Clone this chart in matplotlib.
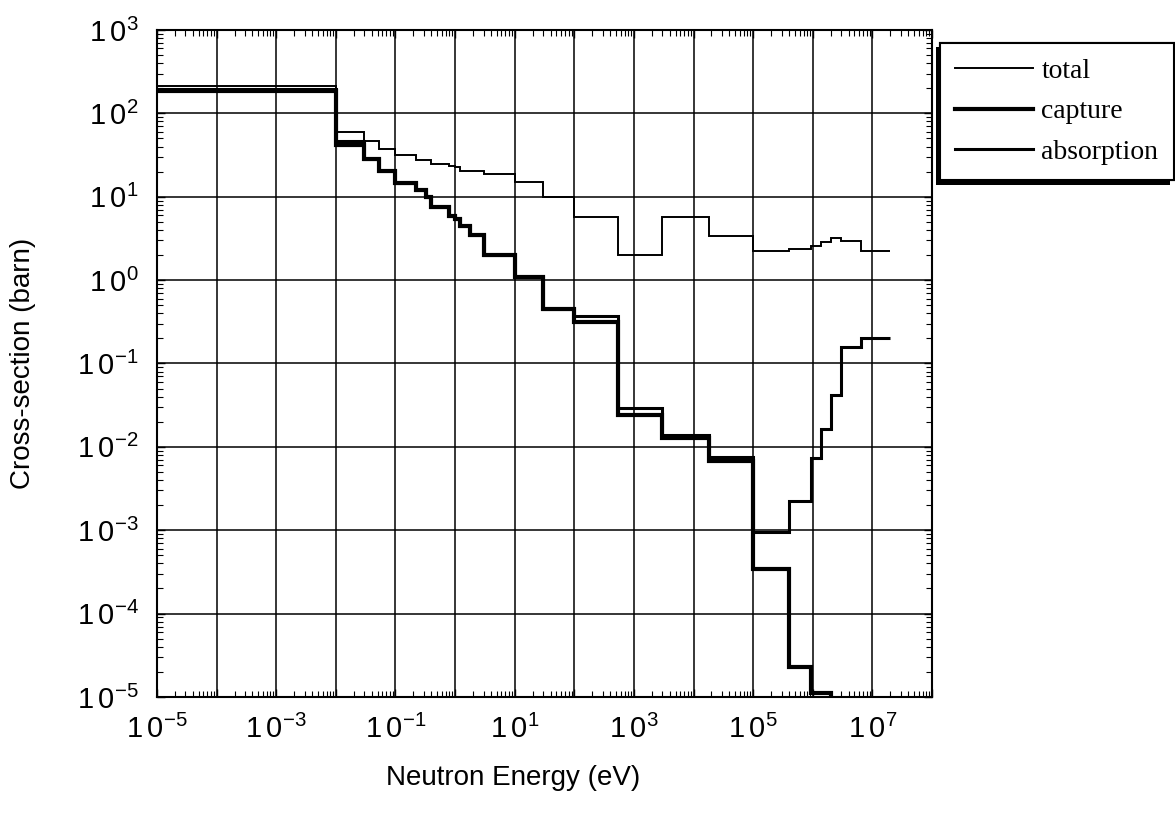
import numpy as np
import matplotlib
matplotlib.use('Agg')
import matplotlib.pyplot as plt
from matplotlib.ticker import LogLocator, NullFormatter
import matplotlib.patheffects as pe

plt.rcParams['font.family'] = ['Liberation Sans', 'DejaVu Sans']
plt.rcParams['mathtext.fontset'] = 'custom'
plt.rcParams['mathtext.rm'] = 'Liberation Sans'

# group boundaries (eV) shared by all three curves
energy_edges = [1e-5, 1e-2, 0.03, 0.053, 0.1, 0.22, 0.32, 0.4, 0.8, 1.0, 1.2, 1.8, 3.0,
                10, 30, 100, 550, 3000, 1.8e4, 1e5, 4e5, 9.5e5, 1.4e6, 2e6, 3e6, 6.5e6, 2e7]

# group cross-sections (barn)
total = [215, 59, 46, 37.5, 31.8, 27.7, 27.7, 24.5, 23.5, 22.5, 20.6, 20.6, 18.6,
         15.2, 10.0, 5.7, 2.0, 5.7, 3.4, 2.25, 2.38, 2.57, 2.84, 3.18, 2.97, 2.25]
capture = [185, 42, 28.2, 20.6, 14.5, 12.1, 10.0, 7.6, 5.9, 5.4, 4.47, 3.5, 2.0,
           1.1, 0.445, 0.31, 0.024, 0.0127, 0.0068, 3.47e-4, 2.3e-5, 1.12e-5, 1.12e-5,
           1e-7, 1e-7, 1e-7]
absorption = [195, 47, 28.2, 20.6, 14.5, 12.1, 10.0, 7.6, 5.9, 5.4, 4.47, 3.5, 2.0,
              1.1, 0.445, 0.37, 0.029, 0.0138, 0.0075, 9.5e-4, 2.25e-3, 7.3e-3, 0.0165,
              0.042, 0.156, 0.2]

x_ticks = [10.0 ** k for k in range(-5, 9)]
x_tick_labels = [r'$\mathregular{1\,0^{%d}}$' % k if k % 2 == 1 else '' for k in range(-5, 9)]
y_ticks = [10.0 ** k for k in range(-5, 4)]
y_tick_labels = [r'$\mathregular{1\,0^{%d}}$' % k for k in range(-5, 4)]

fig = plt.figure(figsize=(11.75, 8.32), dpi=100)
ax = fig.add_axes([0.1336, 0.1623, 0.6596, 0.8017])

ax.stairs(total, energy_edges, baseline=None, color='black', linewidth=1.4, label='total')
ax.stairs(capture, energy_edges, baseline=None, color='black', linewidth=3.0, label='capture')
ax.stairs(absorption, energy_edges, baseline=None, color='black', linewidth=2.2, label='absorption')

ax.set_xscale('log')
ax.set_yscale('log')
ax.set_xlim(1e-5, 1e8)
ax.set_ylim(1e-5, 1e3)

ax.set_xticks(x_ticks)
ax.set_xticklabels(x_tick_labels, fontsize=21)
ax.set_yticks(y_ticks)
ax.set_yticklabels(y_tick_labels, fontsize=21)
ax.xaxis.set_minor_locator(LogLocator(base=10, subs=np.arange(2, 10), numticks=100))
ax.yaxis.set_minor_locator(LogLocator(base=10, subs=np.arange(2, 10), numticks=100))
ax.xaxis.set_minor_formatter(NullFormatter())
ax.yaxis.set_minor_formatter(NullFormatter())

ax.tick_params(which='both', direction='in', top=True, right=True)
ax.tick_params(which='major', length=6, width=1.0)
ax.tick_params(which='minor', length=4, width=0.8)
ax.tick_params(axis='x', pad=13)
ax.tick_params(axis='y', pad=13)

ax.grid(True, which='major', color='black', linewidth=1.1)
ax.set_axisbelow(True)
for s in ax.spines.values():
    s.set_linewidth(1.5)

ax.set_xlabel('Neutron Energy (eV)', fontsize=20)
ax.xaxis.set_label_coords(0.46, -0.102)
ax.set_ylabel('Cross-section (barn)', fontsize=20)
ax.yaxis.set_label_coords(-0.156, 0.5)

leg = ax.legend(loc='upper left', bbox_to_anchor=(940 / 1175, 1 - 43 / 832),
                bbox_transform=fig.transFigure, borderaxespad=0, fancybox=False,
                framealpha=1, edgecolor='black', handlelength=2.8, handletextpad=0.3,
                labelspacing=0.55, borderpad=0.55,
                prop={'family': 'Liberation Serif', 'size': 20})
leg.get_frame().set_linewidth(1.5)
leg.get_frame().set_path_effects([
    pe.withSimplePatchShadow(offset=(-3, -3), shadow_rgbFace='black', alpha=1.0),
    pe.Normal()])

fig.savefig('out.png', dpi=100)
